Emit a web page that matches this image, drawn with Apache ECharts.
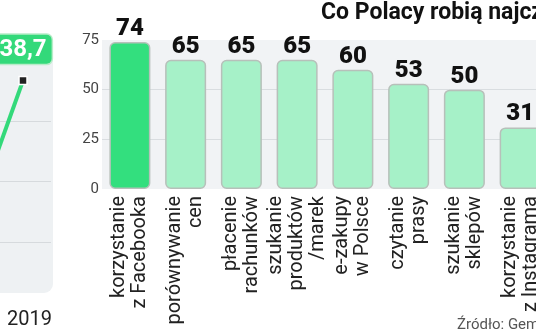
<!DOCTYPE html>
<html><head><meta charset="utf-8">
<script src="https://cdn.jsdelivr.net/npm/echarts@6/dist/echarts.min.js"></script>
<style>html,body{margin:0;padding:0;background:#fff}#c{width:536px;height:332px}</style>
</head><body><div id="c"></div>
<script>
// Bar chart data
const categories = ['korzystanie\nz Facebooka','porównywanie\ncen','płacenie\nrachunków','szukanie\nproduktów\n/marek','e-zakupy\nw Polsce','czytanie\nprasy','szukanie\nsklepów','korzystanie\nz Instagrama'];
const values = [74, 65, 65, 65, 60, 53, 50, 31];
const yTicks = [0, 25, 50, 75];
// Left (cropped) line chart data
const years = ['2018', '2019'];
const lineValues = [28.3, 38.7];

const chart = echarts.init(document.getElementById('c'), null, {renderer: 'canvas'});
const green = '#33df7e', pale = '#a6f1c8';
const numFont = 'Roboto';
chart.setOption({
  animation: false,
  title: [
    {text: 'Co Polacy robią najczęściej', left: 321, top: 2, padding: 0,
     textStyle: {fontFamily: 'Roboto', fontWeight: 'bold', fontSize: 23, color: '#111'}},
    {text: 'Źródło: Gemius', left: 452, top: 313,
     textStyle: {fontFamily: 'Roboto', fontWeight: 'normal', fontSize: 15, color: '#555'}}
  ],
  graphic: [
    {type: 'rect', z: -10, shape: {x: -12, y: 40, width: 65, height: 253, r: 9},
     style: {fill: '#eef1f3'}}
  ],
  grid: [
    {left: 102, top: 40, width: 446, height: 149, show: true, backgroundColor: '#f1f3f5', borderWidth: 0, outerBoundsMode: 'none'},
    {left: -61, top: 61, width: 112, height: 241, outerBoundsMode: 'none'}
  ],
  xAxis: [
    {type: 'category', gridIndex: 0, data: categories,
     axisLine: {show: false}, axisTick: {show: false},
     axisLabel: {rotate: 90, margin: 7, fontFamily: 'Roboto', fontSize: 20, lineHeight: 21, color: '#222', interval: 0}},
    {type: 'category', gridIndex: 1, data: years,
     axisLine: {show: false}, axisTick: {show: false},
     axisLabel: {margin: 8, fontFamily: 'Roboto', fontSize: 20, color: '#222', interval: 0, padding: [0, 0, 0, 13]}}
  ],
  yAxis: [
    {type: 'value', gridIndex: 0, min: yTicks[0], max: yTicks[yTicks.length - 1], interval: 25,
     axisLine: {show: false}, axisTick: {show: false},
     axisLabel: {margin: 3, fontFamily: 'Roboto', fontSize: 15, color: '#444'},
     splitLine: {show: true, showMinLine: false, showMaxLine: false, lineStyle: {color: '#d9dde0', width: 1}}},
    {type: 'value', gridIndex: 1, min: 24, max: 40, interval: 4,
     axisLine: {show: false}, axisTick: {show: false}, axisLabel: {show: false},
     splitLine: {show: true, showMinLine: false, showMaxLine: false, lineStyle: {color: '#d6dadd', width: 1}}}
  ],
  series: [
    {type: 'bar', xAxisIndex: 0, yAxisIndex: 0, barWidth: 41,
     data: values.map((v, i) => ({value: v, itemStyle: {color: i === 0 ? green : pale}})),
     itemStyle: {borderRadius: 5, borderColor: '#b7c0ba', borderWidth: 1.5},
     label: {show: true, position: 'top', distance: 1, fontFamily: numFont,
       fontWeight: 900, fontSize: 24, color: '#111'}},
    {type: 'line', xAxisIndex: 1, yAxisIndex: 1, data: lineValues,
     lineStyle: {color: '#33d97a', width: 4}, symbol: 'rect', symbolSize: 8,
     itemStyle: {color: '#222', borderColor: '#fff', borderWidth: 1.5},
     label: {show: true, position: 'top', distance: 12,
       formatter: p => p.dataIndex === lineValues.length - 1 ? String(p.value).replace('.', ',') : '',
       backgroundColor: '#33d97a', borderColor: '#b8ecc9', borderWidth: 1.5, borderRadius: 5,
       padding: [3, 5, 2, 5], color: '#fff', fontWeight: 'bold', fontSize: 24, fontFamily: numFont}}
  ]
});
</script></body></html>
